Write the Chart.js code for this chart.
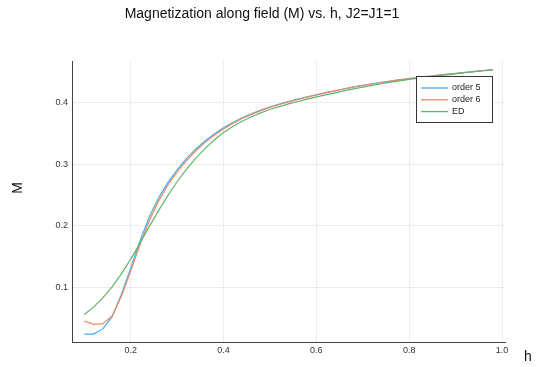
<!DOCTYPE html>
<html>
<head>
<meta charset="utf-8">
<script src="https://cdn.jsdelivr.net/npm/chart.js@4/dist/chart.umd.min.js"></script>
<style>
  html, body { margin: 0; padding: 0; background: #fff; }
  #wrap { width: 545px; height: 367px; position: relative; }
</style>
</head>
<body>
<div id="wrap"><canvas id="c" width="545" height="367"></canvas></div>
<script>
// field values h
const hValues = [0.10, 0.12, 0.14, 0.16, 0.18, 0.20, 0.22, 0.24, 0.26, 0.28,
  0.30, 0.32, 0.34, 0.36, 0.38, 0.40, 0.42, 0.44, 0.46, 0.48,
  0.50, 0.52, 0.54, 0.56, 0.58, 0.60, 0.62, 0.64, 0.66, 0.68,
  0.70, 0.72, 0.74, 0.76, 0.78, 0.80, 0.82, 0.84, 0.86, 0.88,
  0.90, 0.92, 0.94, 0.96, 0.98];

const order5 = [0.0235, 0.0235, 0.032, 0.052, 0.088, 0.131, 0.175, 0.214, 0.245, 0.270,
  0.291, 0.309, 0.3245, 0.3378, 0.3493, 0.3593, 0.368, 0.3756, 0.3822, 0.388,
  0.3932, 0.3978, 0.402, 0.4059, 0.4096, 0.4131, 0.4164, 0.4196, 0.4227, 0.4258,
  0.4285, 0.431, 0.4333, 0.4355, 0.4376, 0.4395, 0.4413, 0.443, 0.4447, 0.4463,
  0.4479, 0.4495, 0.451, 0.4525, 0.454];

const order6 = [0.0448, 0.0395, 0.0405, 0.053, 0.085, 0.126, 0.169, 0.208, 0.240, 0.266,
  0.2875, 0.3055, 0.3215, 0.3352, 0.347, 0.3574, 0.3665, 0.3744, 0.3812, 0.3872,
  0.3925, 0.3972, 0.4014, 0.4054, 0.4091, 0.4127, 0.4161, 0.4193, 0.4224, 0.4254,
  0.4281, 0.4306, 0.433, 0.4352, 0.4373, 0.4392, 0.441, 0.4428, 0.4445, 0.4461,
  0.4477, 0.4493, 0.4508, 0.4523, 0.4538];

const ed = [0.0555, 0.0675, 0.0825, 0.1005, 0.1215, 0.1455, 0.1715, 0.1985, 0.2245, 0.249,
  0.2715, 0.2915, 0.3095, 0.3255, 0.3395, 0.3515, 0.3615, 0.370, 0.3772, 0.3835,
  0.389, 0.3938, 0.3981, 0.4021, 0.4059, 0.4095, 0.4129, 0.4162, 0.4194, 0.4226,
  0.4256, 0.4284, 0.431, 0.4335, 0.4358, 0.438, 0.440, 0.4419, 0.4437, 0.4455,
  0.4472, 0.4489, 0.4505, 0.4521, 0.4537];

const xTicks = [0.2, 0.4, 0.6, 0.8, 1.0];
const yTicks = [0.1, 0.2, 0.3, 0.4];

const toXY = ys => hValues.map((h, i) => ({ x: h, y: ys[i] }));

const FONT = '"Liberation Sans", Arial, Helvetica, sans-serif';

// title, axis labels and the boxed legend (Plots.jl style)
const extras = {
  id: 'extras',
  afterDraw(chart) {
    const ctx = chart.ctx;
    ctx.save();
    ctx.fillStyle = '#111';
    ctx.font = '14px ' + FONT;
    ctx.textAlign = 'center';
    ctx.textBaseline = 'middle';
    ctx.fillText('Magnetization along field (M) vs. h, J2=J1=1', 262, 14);
    ctx.fillText('h', 528, 357);
    ctx.save();
    ctx.translate(18, 188);
    ctx.rotate(-Math.PI / 2);
    ctx.fillText('M', 0, 0);
    ctx.restore();

    // legend
    const bx = 416.5, by = 76.5, bw = 76, bh = 46;
    ctx.fillStyle = '#fff';
    ctx.fillRect(bx, by, bw, bh);
    ctx.strokeStyle = '#333';
    ctx.lineWidth = 1;
    ctx.strokeRect(bx, by, bw, bh);
    ctx.font = '9px ' + FONT;
    ctx.textAlign = 'left';
    chart.data.datasets.forEach((ds, i) => {
      const y = 88 + i * 11.8;
      ctx.strokeStyle = ds.borderColor;
      ctx.lineWidth = 1.3;
      ctx.beginPath();
      ctx.moveTo(421, y);
      ctx.lineTo(448, y);
      ctx.stroke();
      ctx.fillStyle = '#222';
      ctx.fillText(ds.label, 452, y);
    });
    ctx.restore();
  }
};

new Chart(document.getElementById('c'), {
  type: 'line',
  data: {
    datasets: [
      { label: 'order 5', data: toXY(order5), borderColor: '#45abf5', order: 3 },
      { label: 'order 6', data: toXY(order6), borderColor: '#e88a64', order: 2 },
      { label: 'ED', data: toXY(ed), borderColor: '#62b56b', order: 1 },
    ],
  },
  options: {
    responsive: false,
    animation: false,
    events: [],
    elements: {
      line: { borderWidth: 1.2, tension: 0, fill: false },
      point: { radius: 0 },
    },
    layout: { padding: { left: 0, top: 61, right: 40, bottom: 0 } },
    plugins: {
      legend: { display: false },
      title: { display: false },
      tooltip: { enabled: false },
    },
    scales: {
      x: {
        type: 'linear',
        min: 0.0736,
        max: 1.0064,
        afterBuildTicks: s => { s.ticks = xTicks.map(v => ({ value: v })); },
        afterFit: s => { s.height = 25; },
        grid: { color: 'rgba(0,0,0,0.07)', drawTicks: false },
        border: { display: true, color: '#444', width: 1 },
        ticks: {
          padding: 3,
          color: '#333',
          font: { size: 9, family: FONT },
          maxRotation: 0,
          callback: v => v.toFixed(1),
        },
      },
      y: {
        type: 'linear',
        min: 0.0107,
        max: 0.468,
        afterBuildTicks: s => { s.ticks = yTicks.map(v => ({ value: v })); },
        afterFit: s => { s.width = 72; },
        grid: { color: 'rgba(0,0,0,0.07)', drawTicks: false },
        border: { display: true, color: '#444', width: 1 },
        ticks: {
          padding: 4,
          color: '#333',
          font: { size: 9, family: FONT },
          callback: v => v.toFixed(1),
        },
      },
    },
  },
  plugins: [extras],
});
</script>
</body>
</html>
